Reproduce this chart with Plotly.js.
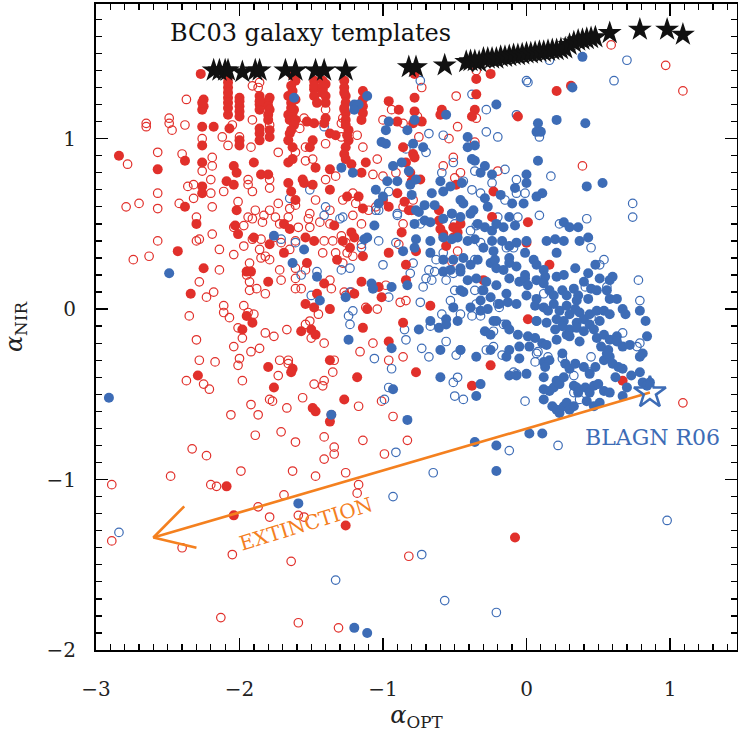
<!DOCTYPE html>
<html><head><meta charset="utf-8">
<script src="https://cdn.plot.ly/plotly-3.0.1.min.js"></script>
<style>html,body{margin:0;padding:0;background:#fff}#chart{width:738px;height:739px}</style>
</head><body><div id="chart"></div>
<script>
// alpha_OPT, alpha_NIR pairs per sample
const redOpen = [
[-1.91,1.31],[-1.86,1.33],[-1.87,1.30],[-1.47,1.26],[-1.40,1.17],[-1.27,1.17],[-0.94,1.17],[-2.37,1.23],[-2.65,1.09],[-2.65,1.07],[-2.49,1.12],[-2.49,1.09],[-2.38,1.08],[-2.47,1.05],[-2.05,1.08],[-1.91,1.11],[-1.79,1.08],[-1.55,1.12],[-1.58,1.06],[-1.28,1.12],[-1.29,1.09],[-1.00,1.11],[-0.86,1.09],[-0.76,1.13],[-2.12,1.01],[-2.08,0.96],[-2.00,1.01],[-1.92,0.95],[-1.73,0.92],[-1.61,0.92],[-1.54,0.95],[-1.40,0.97],[-1.29,1.01],[-1.18,1.02],[-1.14,0.95],[-2.40,0.91],[-2.57,0.92],[-2.26,1.00],[-2.19,0.89],[-2.78,0.85],[-2.26,0.81],[-2.19,0.84],[-2.20,0.76],[-1.94,0.76],[-1.79,0.76],[-1.54,0.87],[-1.49,0.88],[-1.40,0.76],[-1.33,0.78],[-1.07,0.79],[-1.04,0.88],[-0.91,0.80],[-1.00,0.78],[-2.79,0.60],[-2.70,0.62],[-2.57,0.68],[-2.57,0.59],[-2.42,0.62],[-2.36,0.72],[-2.32,0.73],[-2.32,0.65],[-2.20,0.68],[-2.19,0.60],[-2.11,0.69],[-2.01,0.63],[-1.94,0.73],[-1.91,0.69],[-1.89,0.58],[-1.79,0.71],[-1.79,0.58],[-1.73,0.62],[-1.65,0.59],[-1.61,0.61],[-1.51,0.56],[-1.47,0.64],[-1.37,0.58],[-1.28,0.64],[-1.21,0.68],[-1.19,0.62],[-1.10,0.58],[-1.05,0.60],[-0.86,0.60],[-0.79,0.64],
[0.59,1.55],[0.97,1.43],[1.09,1.28],[-0.73,1.30],[-0.49,1.25],[-0.48,1.07],[-0.54,1.00],[-0.35,1.12],[-0.51,0.89],[-0.58,0.84],[-0.46,0.80],[-0.20,0.81],[0.39,0.84],[-0.35,1.40],[-0.36,0.98],[-0.75,1.01],[-0.50,0.77],
[-2.30,0.54],[-2.19,0.44],[-2.57,0.40],[-2.30,0.40],[-2.28,0.41],[-2.74,0.29],[-2.63,0.31],[-2.14,0.35],[-2.14,0.23],[-2.28,0.16],[-2.23,0.07],[-2.18,0.10],[-2.35,-0.04],[-2.11,0.02],[-2.11,-0.02],[-2.07,-0.05],[-1.97,0.02],[-1.94,-0.02],[-1.90,-0.03],[-2.01,-0.11],[-1.98,-0.17],[-2.30,-0.18],[-2.04,-0.22],[-1.92,-0.25],[-1.86,-0.23],[-2.00,-0.29],[-2.01,-0.33],[-2.28,-0.30],[-2.17,-0.31],[-2.37,-0.42],[-2.25,-0.44],[-2.21,-0.47],[-1.98,-0.42],[-1.92,-0.56],[-1.87,-0.62],[-2.06,-0.62],[-1.79,-0.53],[-1.77,-0.54],[-1.73,-0.39],[-1.72,-0.30],[-1.66,-0.30],[-1.66,-0.32],[-1.67,-0.12],[-1.76,-0.16],[-1.82,-0.14],[-1.67,-0.58],[-1.56,-0.52],[-1.41,-0.42],[-1.42,-0.45],[-1.48,-0.44],[-1.35,-0.37],[-1.34,-0.30],[-1.41,-0.20],[-1.50,-0.17],[-1.51,-0.07],[-1.54,-0.09],[-1.45,-0.03],[-1.36,-0.62],[-1.17,-0.57],[-1.16,-0.25],[-1.07,-0.20],[-0.96,-0.30],[-0.86,-0.28],[-0.93,-0.63],[-1.01,-0.54],
[-2.04,0.48],[-1.97,0.49],[-1.94,0.54],[-1.91,0.53],[-1.84,0.51],[-1.83,0.55],[-1.75,0.54],[-1.72,0.50],[-1.66,0.54],[-1.59,0.48],[-1.52,0.53],[-1.51,0.48],[-1.44,0.51],[-1.37,0.50],[-1.29,0.43],[-1.21,0.55],[-1.15,0.50],[-2.04,0.32],[-1.97,0.37],[-1.91,0.41],[-1.85,0.41],[-1.86,0.35],[-1.85,0.30],[-1.82,0.31],[-1.79,0.29],[-1.76,0.42],[-1.71,0.39],[-1.65,0.35],[-1.61,0.40],[-1.41,0.40],[-1.42,0.33],[-1.35,0.40],[-1.33,0.33],[-1.26,0.39],[-1.25,0.33],[-1.21,0.31],[-1.28,0.27],[-1.93,0.27],[-1.95,0.20],[-1.93,0.16],[-1.93,0.11],[-1.88,0.12],[-1.82,0.09],[-1.72,0.23],[-1.71,0.17],[-1.61,0.24],[-1.61,0.18],[-1.54,0.23],[-1.61,0.12],[-1.57,0.12],[-1.36,0.12],[-1.37,0.17],[-1.27,0.10],[-1.26,0.08],[-1.22,0.10],[-1.12,0.01],[-1.04,0.00],[-0.98,0.14],[-0.88,0.04],[-0.84,0.05],[-0.86,0.50],[-0.89,0.38],[-1.15,0.38],
[-0.48,0.34],[-0.52,0.28],[1.09,-0.55],
[-1.89,-0.74],[-1.71,-0.72],[-1.61,-0.78],[-1.41,-0.75],[-1.34,-0.81],[-1.34,-0.85],[-1.41,-0.88],[-1.14,-0.77],[-0.83,-0.77],[-0.99,-0.85],[-2.33,-0.82],[-2.23,-0.86],[-2.48,-0.98],[-1.99,-0.95],[-1.63,-0.95],[-1.47,-0.98],[-1.26,-0.96],[-2.89,-1.03],[-2.20,-1.03],[-2.16,-1.04],[-1.69,-1.09],[-1.17,-1.03],[-1.18,-1.08],[-1.87,-1.16],[-1.79,-1.22],[-1.59,-1.21],[-1.55,-1.22],[-2.89,-1.36],[-2.40,-1.40],[-2.05,-1.44],[-1.64,-1.48],[-0.82,-1.45],[-2.13,-1.81],[-1.59,-1.84],[-1.31,-1.87]
];
const redFilled = [
[-2.27,1.38],[-2.08,1.36],[-1.63,1.37],[-1.61,1.34],[-1.48,1.34],[-1.42,1.34],[-1.40,1.32],[-1.27,1.34],[-1.27,1.30],[-2.08,1.30],[-2.08,1.24],[-2.00,1.24],[-2.00,1.22],[-1.86,1.25],[-1.79,1.24],[-1.80,1.22],[-1.86,1.20],[-1.80,1.19],[-1.66,1.25],[-1.64,1.21],[-1.61,1.23],[-1.62,1.17],[-1.48,1.29],[-1.48,1.25],[-1.42,1.29],[-1.40,1.25],[-1.40,1.21],[-1.46,1.21],[-1.26,1.25],[-1.26,1.21],[-1.14,1.28],[-1.14,1.23],[-2.25,1.23],[-2.25,1.19],[-2.26,1.17],[-0.96,1.22],[-2.08,1.14],[-2.00,1.16],[-2.00,1.13],[-1.86,1.17],[-1.79,1.17],[-1.80,1.14],[-1.66,1.14],[-1.63,1.15],[-1.65,1.11],[-1.61,1.11],[-1.53,1.10],[-1.48,1.09],[-1.40,1.12],[-1.41,1.09],[-1.26,1.15],[-1.26,1.11],[-1.14,1.15],[-1.15,1.11],[-1.24,1.05],[-2.26,1.07],[-2.18,1.07],[-2.07,1.06],[-0.89,1.17],[-0.90,1.10],[-0.79,1.09],[-2.00,0.99],[-2.00,0.96],[-1.86,1.03],[-1.86,0.99],[-1.79,1.01],[-1.65,1.03],[-1.66,0.99],[-1.63,0.95],[-1.49,0.99],[-1.51,0.95],[-1.37,1.03],[-1.33,1.02],[-1.24,0.99],[-1.26,0.95],[-1.27,0.91],[-2.26,0.96],[-0.86,0.95],[-0.79,0.91],[-2.84,0.90],[-2.57,0.82],[-2.38,0.87],[-2.26,0.86],[-2.04,0.84],[-2.02,0.80],[-1.90,0.86],[-1.85,0.79],[-1.80,0.79],[-1.66,0.86],[-1.63,0.88],[-1.56,0.76],[-1.47,0.83],[-1.37,0.82],[-1.26,0.88],[-1.22,0.85],[-1.12,0.86],[-1.15,0.80],[-0.84,0.86],[-0.81,0.80],[-2.38,0.60],[-2.26,0.72],[-2.26,0.68],[-2.09,0.75],[-2.04,0.73],[-2.02,0.58],[-1.66,0.74],[-1.64,0.69],[-1.55,0.74],[-1.61,0.64],[-1.49,0.73],[-1.37,0.70],[-1.25,0.66],[-1.17,0.66],[-1.14,0.59],[-1.00,0.64],[-0.90,0.68],[-0.85,0.63],[-0.96,0.60],[-0.82,0.58],
[-2.08,1.33],[-2.08,1.27],[-2.08,1.21],[-2.08,1.18],[-2.00,1.19],[-1.86,1.22],[-1.80,1.11],[-1.64,1.31],[-1.63,1.28],[-1.64,1.18],[-1.62,1.08],[-1.64,1.05],[-1.48,1.31],[-1.42,1.31],[-1.42,1.27],[-1.27,1.27],[-1.27,1.18],[-1.26,1.08],[-1.25,1.02],[-1.14,1.19],[-1.79,1.05],[-1.86,1.06],[-2.26,1.21],
[-0.25,1.38],[-0.35,1.35],[-0.35,1.26],[-0.36,1.17],[-0.38,1.13],[-0.78,1.38],[-0.78,1.24],[-0.78,1.16],[-0.73,1.10],[-0.78,0.89],[-0.59,1.17],[-0.60,1.14],[0.21,1.28],[0.31,1.31],[-0.06,1.13],[-0.74,0.76],[-0.49,0.73],[-0.23,0.69],[-0.80,0.75],[-0.61,0.58],
[-2.30,0.50],[-2.43,0.34],[-2.25,0.24],[-2.34,0.09],[-2.03,0.49],[-2.01,0.44],[-1.90,0.42],[-1.79,0.38],[-1.69,0.33],[-1.54,0.42],[-1.48,0.40],[-1.53,0.27],[-1.95,0.22],[-1.92,0.22],[-1.80,0.16],[-1.41,0.15],[-1.46,0.09],[-1.54,0.03],[-1.48,0.01],[-1.37,0.00],[-1.95,-0.04],[-1.91,-0.08],[-1.98,-0.12],[-1.57,-0.13],[-1.50,-0.12],[-1.47,-0.15],[-1.14,-0.11],[-1.80,-0.34],[-1.63,-0.35],[-1.64,-0.37],[-1.37,-0.30],[-2.29,-0.39],[-1.76,-0.46],[-1.18,-0.40],[-1.27,-0.53],[-1.49,-0.58],[-1.47,-0.60],[-1.37,-0.66],[-1.69,0.50],[-1.65,0.47],[-1.34,0.49],[-1.22,0.45],[-1.20,0.42],[-1.28,0.40],[-1.23,0.36],[-1.32,0.29],[-1.14,0.31],[-1.15,0.16],[-1.20,0.09],[-1.11,0.00],[-1.03,0.13],[-1.01,0.07],[-0.96,0.33],[-0.87,0.45],[-0.84,0.26],[-0.84,0.17],[-0.86,-0.08],[-0.96,-0.19],[-0.80,0.58],
[-0.61,0.52],[-0.60,0.47],[-0.58,0.44],[-0.51,0.48],[-0.46,0.50],[-0.48,0.45],[-0.51,0.42],[-0.56,0.37],[-0.77,0.34],[-0.24,0.54],[0.01,0.51],[0.00,0.39],[0.16,0.26],[-0.30,0.17],[-0.67,0.02],[0.01,-0.06],[-0.25,-0.33],[-0.77,-0.37],[-0.38,-0.45],[0.67,-0.42],
[-2.09,-1.04],[-2.04,-1.21],[-1.26,-1.27],[-0.08,-1.34]
];
const blueOpen = [
[-1.41,1.07],[-1.65,0.65],[-1.51,0.70],[-1.40,0.60],[-1.03,0.58],[-0.90,0.56],[-0.96,0.69],[-0.84,0.94],
[-0.74,1.34],[0.00,1.34],[0.01,1.33],[0.16,1.46],[0.70,1.46],[0.61,1.34],[-0.38,1.26],[-0.28,1.17],[-0.07,1.14],[-0.28,1.04],[-0.20,1.01],[0.09,1.01],[-0.68,1.03],[-0.58,1.02],[-0.70,0.92],[-0.51,0.86],[-0.59,0.80],[-0.44,0.75],[-0.36,0.81],[-0.15,0.82],[-0.24,0.74],[-0.07,0.76],[0.17,0.78],[-0.38,0.70],[-0.32,0.68],[-0.15,0.64],[-0.01,0.68],[-0.07,0.68],[0.74,0.62],[-0.52,0.56],[-0.20,0.54],[0.42,0.53],
[-1.61,0.39],[-1.71,0.41],[-1.46,0.22],[-1.50,0.08],[-1.57,0.20],[-1.29,0.23],[-1.23,0.24],[-1.23,0.10],[-1.21,-0.01],[-1.24,-0.04],[-1.23,-0.09],[-1.30,0.53],[-1.28,0.54],[-1.15,0.36],[-1.03,0.40],[-1.00,0.26],[-0.96,0.07],[-1.06,-0.29],[-0.94,-0.35],[-0.96,-0.46],[-0.99,-0.53],[-0.85,-0.12],[-0.84,-0.18],[-0.90,0.55],[-0.81,0.21],[-0.91,0.39],[-1.41,0.55],[-1.05,0.58],
[-0.74,0.50],[-0.50,0.50],[-0.39,0.46],[-0.35,0.49],[-0.14,0.36],[-0.09,0.36],[0.23,0.50],[0.45,0.36],[0.51,0.26],[0.54,0.29],[0.09,0.55],[-0.06,0.54],[0.74,0.54],[0.78,0.17],[0.79,0.05],[0.56,0.13],[0.41,0.13],[0.45,-0.05],[0.67,-0.14],[0.77,-0.22],[0.79,-0.20],[0.45,-0.28],[0.25,-0.29],[0.33,-0.39],[0.44,-0.37],[0.07,-0.26],[0.06,-0.31],[0.15,-0.28],[-0.01,-0.54],[0.33,-0.49],[0.37,-0.53],[0.12,0.09],[-0.19,0.01],[-0.20,0.03],[-0.31,0.11],[-0.36,0.11],[-0.53,0.05],[-0.74,0.04],[-0.72,0.13],[-0.70,0.18],[-0.66,0.17],[-0.56,0.17],[-0.50,0.11],[-0.59,-0.03],[-0.56,-0.19],[-0.46,-0.24],[-0.49,-0.27],[-0.73,-0.23],[-0.68,-0.28],[-0.67,-0.10],[-0.51,-0.43],[-0.48,-0.40],[-0.50,-0.51],[-0.44,-0.53],[-0.28,-0.24],[-0.23,-0.22],[-0.17,-0.27],[0.08,-0.25],[-0.09,-0.37],[-0.07,-0.38],[-0.32,0.39],[-0.36,0.29],[-0.51,0.21],[-0.58,0.33],[-0.63,0.29],[-0.64,0.22],[-0.68,0.23],[-0.79,0.27],[0.07,-0.07],[-0.35,0.03],[-0.38,-0.04],[-0.32,-0.04],[-0.23,-0.13],[-0.16,-0.09],[-0.46,-0.03],
[-2.84,-1.31],[-0.91,-0.84],[-0.93,-1.10],[-1.33,-1.59],
[-0.65,-0.96],[-0.12,-0.83],[0.22,-0.80],[-0.73,-1.44],[-0.57,-1.71],[-0.21,-1.78],[0.98,-1.24]
];
const blueFilled = [
[-1.62,1.24],[-1.11,1.25],[-1.20,1.20],[-1.17,1.20],[-1.20,1.17],[-0.96,1.10],[-0.83,1.05],[-0.98,1.05],[-1.01,0.98],[-0.98,0.97],[-0.79,0.97],[-1.29,0.83],[-1.21,0.80],[-0.93,0.84],[-0.87,0.86],[-0.82,0.81],[-0.97,0.75],[-1.05,0.70],[-1.00,0.66],[-1.03,0.62],[-0.90,0.75],[-0.81,0.73],[-0.77,0.76],[-0.77,0.58],
[0.39,1.48],[0.32,1.30],[-0.21,1.20],[-0.56,1.14],[-0.78,1.11],[0.08,1.09],[0.07,1.04],[0.10,1.04],[0.21,1.11],[0.41,1.09],[-0.41,1.01],[-0.41,0.95],[-0.36,0.96],[-0.72,0.95],[-0.38,0.88],[-0.36,0.87],[0.08,0.87],[-0.29,0.84],[-0.32,0.80],[-0.24,0.79],[0.00,0.79],[0.00,0.74],[-0.08,0.71],[0.11,0.68],[0.07,0.66],[0.42,0.72],[0.53,0.74],[-0.60,0.75],[-0.58,0.69],[-0.53,0.72],[-0.45,0.74],[-0.46,0.64],[-0.44,0.62],[-0.66,0.68],[-0.71,0.61],[-0.64,0.61],[-0.75,0.57],[-0.27,0.60],[-0.18,0.67],[-0.10,0.62],[-0.02,0.62],[-0.37,0.58],[-0.29,0.65],[-0.80,0.67],
[-2.49,0.21],[-2.91,-0.52],[-1.76,0.43],[-1.63,0.27],[-1.55,0.35],[-1.46,0.19],[-1.44,0.05],[-1.26,0.07],[-1.24,-0.18],[-1.36,-0.62],[-1.13,0.41],[-1.11,0.42],[-1.06,0.49],[-1.08,0.15],[-1.07,0.12],[-0.94,0.13],[-0.83,0.14],[-0.94,-0.23],[-0.93,-0.47],[-0.83,-0.65],[-0.86,0.34],
[-0.78,0.50],[-0.71,0.52],[-0.67,0.51],[-0.58,0.53],[-0.52,0.56],[-0.46,0.54],[-0.39,0.56],[-0.34,0.50],[-0.29,0.48],[-0.24,0.46],[-0.21,0.50],[-0.16,0.48],[-0.12,0.54],[-0.08,0.49],[0.26,0.51],[0.30,0.48],[0.36,0.48],
[-0.77,0.41],[-0.67,0.40],[-0.58,0.42],[-0.52,0.41],[-0.48,0.42],[-0.41,0.40],[-0.36,0.41],[-0.30,0.36],[-0.24,0.40],[-0.17,0.40],[-0.12,0.37],[-0.07,0.39],[-0.01,0.33],[0.00,0.40],[0.14,0.40],[0.20,0.41],[0.26,0.40],[0.37,0.40],[0.43,0.42],[0.21,0.33],[-0.12,0.30],[-0.23,0.34],
[-0.78,0.36],[-0.67,0.33],[-0.58,0.29],[-0.51,0.29],[-0.46,0.24],[-0.44,0.30],[-0.39,0.26],[-0.34,0.29],[-0.25,0.27],[-0.22,0.29],[-0.21,0.24],[-0.16,0.23],[-0.12,0.27],[-0.07,0.25],[-0.01,0.20],[0.05,0.29],[0.07,0.26],[0.12,0.23],[0.13,0.19],[0.21,0.19],[0.26,0.20],[0.34,0.24],[0.43,0.21],[0.48,0.26],[0.58,0.17],[0.60,0.19],[0.51,0.18],
[-0.58,0.22],[-0.53,0.23],[-0.46,0.22],[-0.41,0.17],[-0.35,0.18],[-0.28,0.16],[-0.21,0.14],[-0.12,0.18],[-0.05,0.16],[-0.01,0.18],[0.01,0.14],[0.07,0.17],[0.12,0.15],[0.16,0.11],[0.19,0.08],[0.25,0.11],[0.28,0.08],[0.33,0.12],[0.36,0.08],[0.40,0.16],[0.45,0.12],[0.49,0.11],[0.56,0.11],[0.58,0.06],[0.63,0.06],[0.43,0.06],[0.35,0.05],[-0.46,0.11],[-0.44,0.10],[-0.30,0.11],[-0.25,0.07],[-0.32,0.05],[-0.14,0.09],[0.00,0.08],[0.07,0.06],
[-0.51,0.01],[-0.39,0.01],[-0.32,-0.01],[-0.27,0.00],[-0.19,0.03],[-0.13,0.04],[-0.07,0.03],[0.06,0.02],[0.12,0.01],[0.15,-0.01],[0.19,0.03],[0.23,-0.01],[0.28,0.02],[0.30,-0.03],[0.34,0.00],[0.37,-0.02],[0.40,-0.06],[0.44,-0.03],[0.49,-0.01],[0.54,-0.01],[0.58,-0.03],[0.67,0.00],[0.69,-0.03],[0.79,-0.01],[0.83,-0.07],[0.51,-0.07],[0.26,-0.07],[0.35,-0.08],[0.21,-0.06],[0.07,-0.07],[0.14,-0.08],[-0.67,-0.07],[-0.56,-0.06],[-0.48,-0.07],[-0.23,-0.07],[-0.21,-0.07],[-0.14,-0.09],[-0.12,-0.12],
[-0.75,-0.12],[-0.61,-0.11],[-0.56,-0.09],[-0.29,-0.13],[-0.25,-0.15],[-0.06,-0.15],[0.01,-0.16],[0.06,-0.17],[0.11,-0.20],[0.14,-0.21],[0.21,-0.18],[0.28,-0.15],[0.30,-0.12],[0.35,-0.11],[0.40,-0.13],[0.44,-0.09],[0.47,-0.12],[0.49,-0.17],[0.54,-0.15],[0.58,-0.18],[0.63,-0.16],[0.67,-0.22],[0.72,-0.21],[0.84,-0.16],[0.25,-0.10],[0.20,-0.12],[0.30,-0.16],[0.37,-0.19],[0.52,-0.22],[0.57,-0.24],[0.63,-0.19],[-0.60,-0.24],[-0.46,-0.24],[-0.35,-0.28],[-0.14,-0.28],[-0.05,-0.22],[0.02,-0.22],[-0.12,-0.24],
[-0.25,-0.24],[-0.05,-0.29],[0.12,-0.31],[0.16,-0.30],[0.25,-0.26],[0.27,-0.32],[0.30,-0.35],[0.34,-0.32],[0.40,-0.34],[0.44,-0.38],[0.48,-0.34],[0.54,-0.30],[0.58,-0.28],[0.60,-0.32],[0.64,-0.34],[0.67,-0.35],[0.73,-0.39],[0.79,-0.37],[0.79,-0.28],[0.81,-0.26],[0.56,-0.26],[0.13,-0.34],[-0.12,-0.39],[-0.07,-0.39],[0.00,-0.38],[-0.60,-0.40],[0.12,-0.40],
[0.16,-0.48],[0.19,-0.46],[0.21,-0.42],[0.23,-0.44],[0.26,-0.40],[0.33,-0.45],[0.35,-0.46],[0.36,-0.49],[0.41,-0.46],[0.44,-0.49],[0.47,-0.45],[0.50,-0.44],[0.54,-0.48],[0.58,-0.49],[0.62,-0.40],[0.67,-0.51],[0.70,-0.46],[0.81,-0.43],[0.86,-0.43],[0.84,-0.45],[0.12,-0.47],[-0.35,-0.51],[-0.32,-0.44],
[0.12,-0.53],[0.18,-0.57],[0.21,-0.59],[0.23,-0.61],[0.26,-0.57],[0.28,-0.55],[0.30,-0.59],[0.33,-0.57],[0.42,-0.54],[0.47,-0.57],[0.51,-0.55],
[-1.59,-1.14],[-1.20,-1.87],[-1.11,-1.90],
[-0.36,-0.78],[-0.21,-0.80],[-0.21,-0.95],[0.02,-0.73],[0.11,-0.73]
];
// BC03 galaxy template tracks
const templateX = [-2.18,-2.14,-2.10,-2.08,-1.98,-1.89,-1.86,-1.68,-1.61,-1.47,-1.41,-1.26,-0.82,-0.77,-0.57,-0.42,-0.39,-0.36,-0.33,-0.30,-0.27,-0.24,-0.21,-0.18,-0.15,-0.12,-0.09,-0.06,-0.03,0.00,0.03,0.06,0.09,0.12,0.15,0.18,0.21,0.24,0.27,0.30,0.33,0.36,0.39,0.42,0.45,0.48,0.58,0.79,0.98,1.09];
const templateY = [1.40,1.40,1.40,1.40,1.39,1.40,1.40,1.40,1.40,1.40,1.40,1.40,1.42,1.42,1.43,1.45,1.455,1.455,1.45,1.47,1.47,1.47,1.47,1.48,1.48,1.485,1.49,1.49,1.495,1.50,1.50,1.505,1.51,1.51,1.515,1.52,1.52,1.525,1.53,1.55,1.565,1.575,1.58,1.585,1.59,1.595,1.62,1.64,1.64,1.61];
// BLAGN template (Richards+06) and extinction vector
const blagnX = [0.86], blagnY = [-0.49];
const extLineX = [0.86, -2.60], extLineY = [-0.49, -1.34];
const extHeadX = [-2.385, -2.60, -2.30], extHeadY = [-1.157, -1.34, -1.40];

const RED = '#e1302b', BLUE = '#3d6cb6', ORANGE = '#f4801f';
const px = a => a.map(p => p[0]), py = a => a.map(p => p[1]);

const traces = [
  {x: px(redOpen), y: py(redOpen), mode: 'markers', type: 'scatter',
   marker: {symbol: 'circle-open', size: 8.5, color: RED, line: {width: 1.2, color: RED}}},
  {x: px(blueOpen), y: py(blueOpen), mode: 'markers', type: 'scatter',
   marker: {symbol: 'circle-open', size: 8.5, color: BLUE, line: {width: 1.2, color: BLUE}}},
  {x: px(redFilled), y: py(redFilled), mode: 'markers', type: 'scatter',
   marker: {symbol: 'circle', size: 10, color: RED, line: {width: 0}}},
  {x: px(blueFilled), y: py(blueFilled), mode: 'markers', type: 'scatter',
   marker: {symbol: 'circle', size: 10, color: BLUE, line: {width: 0}}},
  {x: templateX, y: templateY, mode: 'markers', type: 'scatter',
   marker: {symbol: 'star', size: 18, color: '#111', line: {width: 0}}},
  {x: extLineX, y: extLineY, mode: 'lines', type: 'scatter', line: {color: ORANGE, width: 2.6}},
  {x: extHeadX, y: extHeadY, mode: 'lines', type: 'scatter', line: {color: ORANGE, width: 2.6}},
  {x: blagnX, y: blagnY, mode: 'markers', type: 'scatter',
   marker: {symbol: 'star-open', size: 24, color: BLUE, line: {width: 2.6, color: BLUE}}}
];

const tickFont = {family: 'DejaVu Serif', size: 20, color: '#222'};
const common = {
  showgrid: false, zeroline: false, showline: true, linewidth: 2, linecolor: '#000',
  mirror: 'ticks', ticks: 'inside', ticklen: 12, tickwidth: 1.6, tickcolor: '#000',
  tickmode: 'linear', tick0: 0, dtick: 1, tickfont: tickFont,
  minor: {ticks: 'inside', ticklen: 6, tickwidth: 1.3, tickcolor: '#000', dtick: 0.1, showgrid: false}
};

const layout = {
  width: 738, height: 739,
  margin: {l: 96, r: 1, t: 4, b: 89},
  paper_bgcolor: '#fff', plot_bgcolor: '#fff',
  showlegend: false,
  xaxis: Object.assign({}, common, {
    range: [-3, 1.467], ticklabelstandoff: 20,
    title: {text: '<i>α</i><sub>OPT</sub>', font: {family: 'DejaVu Serif', size: 24, color: '#222'}, standoff: 4}
  }),
  yaxis: Object.assign({}, common, {
    range: [-2.0, 1.79], ticklabelstandoff: 14,
    title: {text: '<i>α</i><sub>NIR</sub>', font: {family: 'DejaVu Serif', size: 24, color: '#222'}, standoff: 22}
  }),
  annotations: [
    {text: 'BC03 galaxy templates', x: -2.50, y: 1.62, xref: 'x', yref: 'y', xanchor: 'left', yanchor: 'middle',
     showarrow: false, font: {family: 'DejaVu Serif', size: 24, color: '#111'}},
    {text: 'BLAGN R06', x: 0.875, y: -0.755, xref: 'x', yref: 'y', xanchor: 'center', yanchor: 'middle',
     showarrow: false, font: {family: 'DejaVu Serif', size: 22, color: BLUE}},
    {text: 'EXTINCTION', x: -1.54, y: -1.26, xref: 'x', yref: 'y', xanchor: 'center', yanchor: 'middle',
     showarrow: false, textangle: -17, font: {family: 'DejaVu Serif', size: 20, color: ORANGE}}
  ]
};

Plotly.newPlot('chart', traces, layout, {displayModeBar: false, staticPlot: true});
</script>
</body></html>
